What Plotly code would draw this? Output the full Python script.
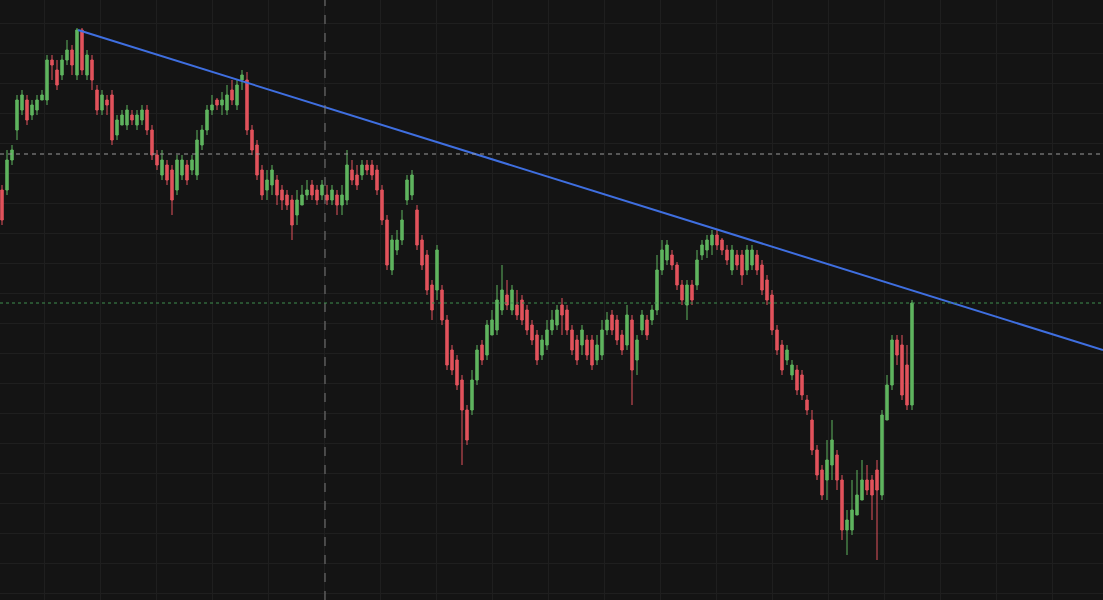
import plotly.graph_objects as go

# levels are screen-depth units (0 = top); price = 600 - level
o_lv = [190,190,160,130,110,100,115,110,100,100,
 60,70,75,60,50,75,30,75,60,90,
 110,100,95,135,125,125,115,125,120,110,
 130,155,175,165,170,190,175,165,170,175,
 145,130,110,100,105,110,90,105,80,80,
 130,145,170,190,185,180,190,195,200,215,
 205,195,185,190,195,195,200,195,205,200,
 170,175,175,165,165,170,190,220,270,250,
 240,200,195,210,240,255,285,290,290,320,
 350,360,380,410,410,380,345,355,335,330,
 310,295,310,305,300,310,325,335,355,345,
 330,325,305,310,330,340,345,340,340,360,
 355,330,315,320,335,345,320,360,330,320,
 320,310,270,260,255,265,285,305,285,285,
 255,250,245,235,240,250,270,255,255,270,
 265,255,265,280,295,330,345,360,375,370,
 375,400,420,450,470,480,465,455,480,530,
 530,515,500,480,480,470,495,420,385,340,
 345,365,405]
c_lv = [220,160,150,100,95,120,105,100,95,60,
 65,85,60,50,65,30,70,55,80,110,
 95,105,140,120,115,110,120,115,110,130,
 155,165,160,180,200,160,160,180,160,140,
 130,110,105,105,100,95,100,85,75,130,
 150,175,195,180,170,195,200,205,225,200,
 195,190,195,200,185,200,190,205,195,165,
 180,185,165,170,175,190,220,265,240,240,
 220,180,175,245,265,290,310,250,320,365,
 370,385,410,440,380,350,360,325,320,300,
 290,305,290,315,320,330,340,360,340,330,
 320,310,315,330,350,360,330,355,365,345,
 330,320,330,340,350,315,370,340,315,335,
 310,270,250,245,265,285,300,285,300,260,
 245,240,235,245,250,260,250,265,275,250,
 250,270,290,300,330,350,370,350,365,390,
 395,410,450,475,495,460,440,480,530,520,
 510,495,480,490,495,490,415,385,340,355,
 395,405,303]
h_lv = [185,150,145,95,90,95,100,95,90,55,
 55,60,55,40,45,28,28,50,55,85,
 90,95,90,115,110,105,110,110,105,105,
 125,150,150,160,165,155,155,160,155,130,
 125,105,95,98,92,85,80,80,70,72,
 125,140,165,170,165,175,185,190,195,190,
 185,180,180,185,180,185,185,190,185,150,
 160,165,160,160,160,165,185,215,235,230,
 210,175,170,205,235,250,280,245,285,315,
 345,355,375,405,370,345,340,320,310,285,
 265,280,285,290,295,305,320,330,335,320,
 310,305,298,305,325,335,325,335,335,335,
 320,312,310,315,330,305,315,335,310,315,
 305,255,240,240,250,262,280,280,280,250,
 240,235,230,230,238,245,245,250,250,245,
 245,250,260,275,290,325,340,345,360,365,
 370,395,410,445,465,440,420,450,475,510,
 480,470,460,465,475,460,410,375,335,335,
 335,345,300]
l_lv = [225,195,165,140,115,125,120,115,100,105,
 80,90,80,65,75,80,75,80,90,115,
 115,115,145,140,125,130,125,130,125,135,
 160,170,180,185,215,195,180,185,175,180,
 150,135,115,110,115,115,105,110,90,135,
 155,180,200,200,195,205,210,210,240,225,
 205,200,200,205,200,205,205,215,215,205,
 185,190,180,175,180,195,225,270,275,255,
 245,205,200,250,270,295,320,300,325,370,
 375,390,465,445,415,385,365,360,330,335,
 315,310,315,320,325,335,345,365,360,350,
 335,330,335,335,355,365,355,360,370,365,
 360,335,335,345,355,350,405,375,335,340,
 325,315,275,265,270,290,305,320,305,290,
 260,258,255,250,255,265,275,270,285,275,
 270,275,295,305,335,355,375,365,380,395,
 400,415,455,480,500,500,480,490,540,555,
 535,510,500,495,520,560,500,420,390,365,
 400,410,410]

opens = [600 - v for v in o_lv]
closes = [600 - v for v in c_lv]
highs = [600 - v for v in h_lv]
lows = [600 - v for v in l_lv]
idx = list(range(len(opens)))

trend_x = [15.2, 220.2]
trend_y = [570, 250]
cross_x = 64.6
cross_y = 446
last_price = 297

fig = go.Figure()
fig.add_trace(go.Candlestick(
    x=idx, open=opens, high=highs, low=lows, close=closes,
    increasing=dict(line=dict(color="#5fb45f", width=1), fillcolor="#5fb45f"),
    decreasing=dict(line=dict(color="#e2525c", width=1), fillcolor="#e2525c"),
    whiskerwidth=0, showlegend=False, hoverinfo="skip"))
fig.add_trace(go.Scatter(x=trend_x, y=trend_y, mode="lines",
    line=dict(color="#3f6fe0", width=2), showlegend=False, hoverinfo="skip"))

fig.add_shape(type="line", x0=cross_x, x1=cross_x, y0=0, y1=1, yref="paper",
              line=dict(color="#7a7a7a", width=1, dash="dash"))
fig.add_shape(type="line", x0=0, x1=1, xref="paper", y0=cross_y, y1=cross_y,
              line=dict(color="#9a9a9a", width=1, dash="4px,4px"))
fig.add_shape(type="line", x0=0, x1=1, xref="paper", y0=last_price, y1=last_price,
              line=dict(color="#3f8f4f", width=1, dash="dot"))

fig.update_layout(
    width=1103, height=600, margin=dict(l=0, r=0, t=0, b=0),
    paper_bgcolor="#141414", plot_bgcolor="#141414",
    xaxis=dict(range=[-0.4, 220.2], rangeslider=dict(visible=False),
               showticklabels=False, showgrid=True, gridcolor="#1f1f1f",
               tick0=165.2, dtick=11.2, zeroline=False, showline=False),
    yaxis=dict(range=[0, 600], showticklabels=False, showgrid=True,
               gridcolor="#1f1f1f", tick0=7, dtick=30, zeroline=False, showline=False),
)
fig.write_html("out.html", config={"displayModeBar": False})
with open("out.html", encoding="utf-8") as f:
    html = f.read()
html = html.replace("<body>", '<body style="margin:0;background:#141414;overflow:hidden">', 1)
with open("out.html", "w", encoding="utf-8") as f:
    f.write(html)
